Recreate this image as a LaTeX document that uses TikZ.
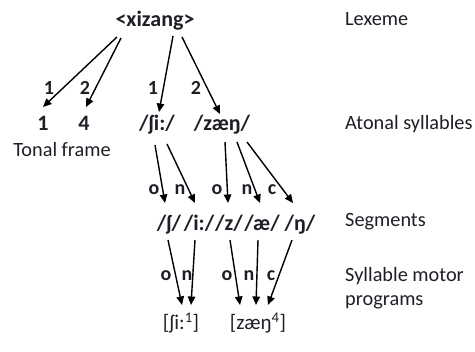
\documentclass[tikz,border=0pt]{standalone}
\usepackage{fontspec}
\setmainfont{Carlito}
\usetikzlibrary{arrows.meta}
\definecolor{txt}{RGB}{30,30,38}
\begin{document}
\begin{tikzpicture}[x=1pt,y=-1pt,
  every node/.style={inner sep=0pt,anchor=base,text=txt},
  tree/.style={font=\fontsize{22}{25}\selectfont\bfseries},
  lab/.style={font=\fontsize{20}{23}\selectfont\bfseries},
  side/.style={font=\fontsize{20.3}{24}\selectfont,anchor=base west},
  mot/.style={font=\fontsize{21}{24}\selectfont},
  arr/.style={line width=1.4pt,-{Triangle[length=8.5pt,width=7.5pt]}}]
\useasboundingbox (0,0) rectangle (475,352);
% nodes
\node[tree] (xiz) at (155,27) {<xizang>};
\node[tree] (t1) at (43,131) {1};
\node[tree] (t4) at (84,131) {4};
\node[tree] (shi) at (157,131) {/ʃi:/};
\node[tree] (zae) at (222,131) {/zæŋ/};
\node[font=\fontsize{20.3}{24}\selectfont] (tf) at (62,157) {Tonal frame};
\node[tree] (s1) at (169,231) {/ʃ/};
\node[tree] (s2) at (199,231) {/i:/};
\node[tree] (s3) at (229,231) {/z/};
\node[tree] (s4) at (262,231) {/æ/};
\node[tree] (s5) at (300,231) {/ŋ/};
\node[mot] (m1) at (181,330) {[ʃi:\textsuperscript{1}]};
\node[mot] (m2) at (258,330) {[zæŋ\textsuperscript{4}]};
% side labels
\node[side] (lx) at (345,26) {Lexeme};
\node[side] (la) at (345,130) {Atonal syllables};
\node[side] (ls) at (345,227) {Segments};
\node[side,align=left] (lm) at (345,306) {Syllable motor\\programs};
% arrows level 1
\draw[arr] ([shift={(-38,10)}]xiz.base) -- ([shift={(0,-24)}]t1.base);
\draw[arr] ([shift={(-34,11)}]xiz.base) -- ([shift={(2,-24)}]t4.base);
\draw[arr] ([shift={(18,9)}]xiz.base) -- ([shift={(2,-19)}]shi.base);
\draw[arr] ([shift={(27,10)}]xiz.base) -- ([shift={(-2,-17)}]zae.base);
% arrows level 2
\draw[arr] ([shift={(-2,14)}]shi.base) -- ([shift={(-4,-28)}]s1.base);
\draw[arr] ([shift={(10,13)}]shi.base) -- ([shift={(-4,-28)}]s2.base);
\draw[arr] ([shift={(3,11)}]zae.base) -- ([shift={(-1,-28)}]s3.base);
\draw[arr] ([shift={(15,11)}]zae.base) -- ([shift={(-2,-28)}]s4.base);
\draw[arr] ([shift={(25,11)}]zae.base) -- ([shift={(-7,-28)}]s5.base);
% arrows level 3
\draw[arr] ([shift={(-1,9)}]s1.base) -- ([shift={(1,-25)}]m1.base);
\draw[arr] ([shift={(-4,9)}]s2.base) -- ([shift={(10,-25)}]m1.base);
\draw[arr] ([shift={(1,9)}]s3.base) -- ([shift={(-18,-25)}]m2.base);
\draw[arr] ([shift={(-4,9)}]s4.base) -- ([shift={(-2,-25)}]m2.base);
\draw[arr] ([shift={(-8,9)}]s5.base) -- ([shift={(10,-25)}]m2.base);
% edge labels
\node[lab] (e1) at (49,95) {1};
\node[lab] (e2) at (85,95) {2};
\node[lab] (e3) at (153,95) {1};
\node[lab] (e4) at (196,95) {2};
\node[lab] (o1) at (154,195) {o};
\node[lab] (n1) at (180,195) {n};
\node[lab] (o2) at (217,195) {o};
\node[lab] (n2) at (247,195) {n};
\node[lab] (c2) at (272,195) {c};
\node[lab] (o3) at (166,281) {o};
\node[lab] (n3) at (187,281) {n};
\node[lab] (o4) at (227,281) {o};
\node[lab] (n4) at (249,281) {n};
\node[lab] (c4) at (271,281) {c};
\end{tikzpicture}
\end{document}
